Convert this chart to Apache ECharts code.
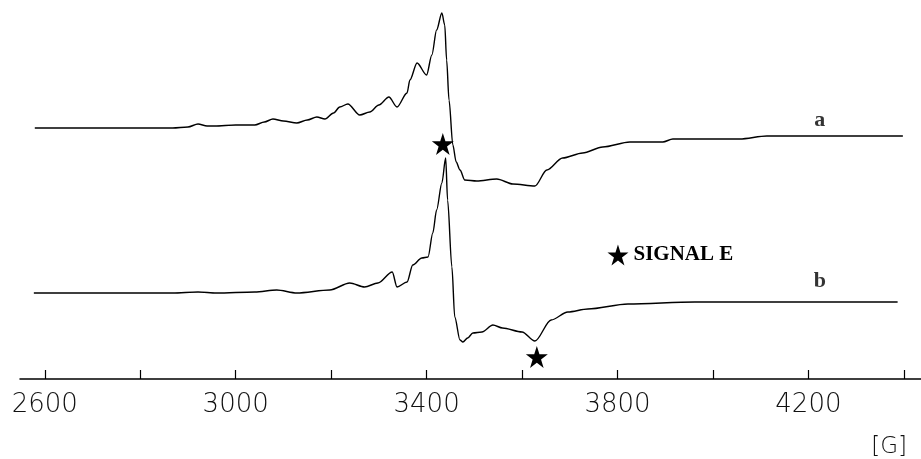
<!DOCTYPE html>
<html>
<head>
<meta charset="utf-8">
<script src="https://cdn.jsdelivr.net/npm/echarts@6/dist/echarts.min.js"></script>
<style>
  html, body { margin: 0; padding: 0; background: #fff; }
  #chart { width: 921px; height: 459px; }
</style>
</head>
<body>
<div id="chart"></div>
<script>
// magnetic field [G] vs. signal (arbitrary units, spectra offset vertically)
const traceA = [
  [2579, 251], [2868, 251], [2900, 252], [2921, 255], [2940, 253], [2956, 253],
  [3000, 254], [3040, 254], [3060, 257], [3078, 260], [3100, 258], [3128, 256],
  [3150, 259], [3170, 262], [3187, 260], [3205, 266], [3218, 272], [3235, 275],
  [3260, 264], [3281, 267], [3300, 274], [3321, 282], [3338, 272], [3359, 286],
  [3365, 299], [3380, 316], [3400, 304], [3411, 324], [3421, 349], [3432, 366],
  [3438, 354], [3442, 319], [3447, 279], [3455, 234], [3462, 217], [3470, 209],
  [3480, 199], [3505, 198], [3547, 200], [3581, 195], [3627, 193], [3652, 209],
  [3685, 221], [3727, 226], [3769, 232], [3826, 237], [3895, 237], [3916, 240],
  [3973, 240], [4056, 240], [4113, 243], [4251, 243], [4398, 243]
];
const traceB = [
  [2577, 86], [2868, 86], [2921, 87], [2960, 86], [3040, 87], [3086, 89],
  [3128, 86], [3197, 89], [3239, 96], [3270, 92], [3298, 96], [3328, 107],
  [3338, 92], [3359, 97], [3371, 114], [3390, 121], [3403, 122], [3413, 146],
  [3421, 169], [3432, 196], [3440, 221], [3444, 179], [3453, 112], [3459, 62],
  [3470, 39], [3476, 37], [3486, 41], [3497, 46], [3516, 47], [3539, 54],
  [3559, 51], [3600, 47], [3627, 38], [3661, 59], [3696, 67], [3738, 70],
  [3822, 75], [3962, 77], [4387, 77]
];
// signal E markers
const stars = [[3434, 235], [3631, 22]];
const starKey = [[3801, 124]];
const traceLabels = [[4224, 259, 'a'], [4224, 98, 'b']];
const tickValues = [2600, 2800, 3000, 3200, 3400, 3600, 3800, 4000, 4200, 4400];
const labelValues = [2600, 3000, 3400, 3800, 4200];

const starPath = 'path://M50,0 L61.8,36.2 L100,36.2 L69.1,58.8 L80.9,95.1 L50,72.7 L19.1,95.1 L30.9,58.8 L0,36.2 L38.2,36.2 Z';

const chart = echarts.init(document.getElementById('chart'));

const option = {
  animation: false,
  backgroundColor: '#fff',
  grid: { left: 20, right: 0, top: 0, bottom: 80 },
  xAxis: {
    type: 'value',
    min: 2548,
    max: 4436,
    axisLine: { show: true, lineStyle: { color: '#000', width: 1.5 } },
    axisTick: {
      show: true, inside: true, length: 9,
      customValues: tickValues,
      lineStyle: { color: '#000', width: 1.2 }
    },
    axisLabel: {
      customValues: labelValues,
      formatter: v => String(v),
      margin: 13,
      color: '#111',
      fontFamily: 'DejaVu Sans',
      fontSize: 26,
      fontWeight: 200
    },
    splitLine: { show: false }
  },
  yAxis: {
    type: 'value',
    min: 0,
    max: 379,
    show: false
  },
  graphic: [{
    type: 'text',
    right: 14,
    top: 436,
    style: { text: '[G]', fill: '#111', font: '200 23px "DejaVu Sans"' }
  }],
  series: [
    {
      name: 'a', type: 'line', data: traceA, showSymbol: false,
      smooth: 0.3, smoothMonotone: 'x',
      lineStyle: { color: '#000', width: 1.4 }
    },
    {
      name: 'b', type: 'line', data: traceB, showSymbol: false,
      smooth: 0.3, smoothMonotone: 'x',
      lineStyle: { color: '#000', width: 1.4 }
    },
    {
      type: 'scatter', data: stars, symbol: starPath, symbolSize: 22,
      itemStyle: { color: '#000', opacity: 1 }, z: 5
    },
    {
      type: 'scatter', data: starKey, symbol: starPath, symbolSize: 21,
      itemStyle: { color: '#000', opacity: 1 },
      label: {
        show: true, position: 'right', distance: 5,
        formatter: 'SIGNAL E',
        color: '#000', fontFamily: 'Liberation Serif', fontWeight: 'bold', fontSize: 21
      }
    },
    {
      type: 'scatter', data: traceLabels, symbolSize: 0,
      label: {
        show: true, position: 'inside',
        formatter: p => p.value[2],
        color: '#000', fontFamily: 'Liberation Serif', fontWeight: 'bold', fontSize: 22
      }
    }
  ]
};

chart.setOption(option);
</script>
</body>
</html>
